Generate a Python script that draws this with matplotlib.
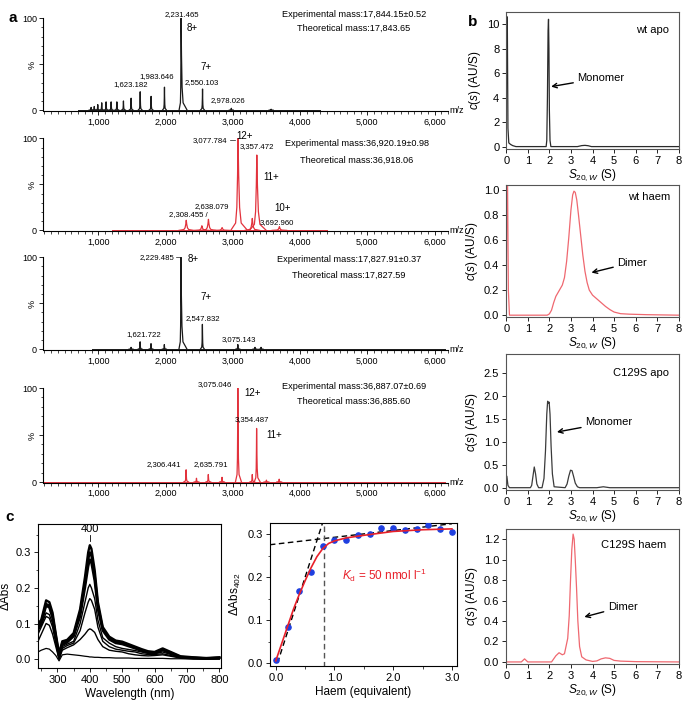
import numpy as np
import matplotlib
matplotlib.use('Agg')
import matplotlib.pyplot as plt
from matplotlib.ticker import MultipleLocator

plt.rcParams['font.family'] = ['Liberation Sans', 'DejaVu Sans']
plt.rcParams['mathtext.fontset'] = 'custom'
plt.rcParams['mathtext.rm'] = 'Liberation Sans'
plt.rcParams['mathtext.it'] = 'Liberation Sans:italic'
plt.rcParams['mathtext.bf'] = 'Liberation Sans:bold'
plt.rcParams['axes.linewidth'] = 0.8

# ---------------- data: panel a (mass spectra, peak m/z and % intensity) ----
spec1_mz = [893, 940, 992, 1051, 1116, 1191, 1276, 1374, 1488, 1623, 1785, 1984, 2231, 2550, 2978, 3570]
spec1_int = [3, 4, 6, 8, 9, 9, 9, 10, 13, 20, 15, 25, 100, 23, 2, 1]
spec2_mz = [2308, 2540, 2638, 2841, 3078, 3290, 3357, 3693]
spec2_int = [11, 5, 12, 3, 100, 13, 82, 4]
spec3_mz = [1487, 1622, 1784, 1982, 2229, 2548, 3075, 3330, 3420]
spec3_int = [2, 8, 6, 5, 100, 27, 5, 2, 2]
spec4_mz = [2306, 2460, 2636, 2840, 3075, 3290, 3354, 3500, 3690]
spec4_int = [13, 4, 8, 5, 100, 8, 57, 2, 3]

# ---------------- data: panel b (c(s) distributions) ----------------------
b1_s = [0, 0.02, 0.05, 0.08, 0.12, 0.2, 0.3, 0.45, 1.85, 1.88, 1.91, 1.94, 1.96, 1.98, 2.0, 2.03, 2.07,
        3.3, 3.5, 3.65, 3.8, 3.95, 8]
b1_c = [0, 10.6, 10.6, 1.5, 0.3, 0.18, 0.08, 0.0, 0.0, 0.5, 4.0, 9.5, 10.4, 8.0, 3.0, 0.5, 0.0,
        0.0, 0.08, 0.1, 0.07, 0.0, 0.0]
b2_s = [0, 0.03, 0.06, 0.1, 0.15, 1.9, 2.0, 2.1, 2.2, 2.3, 2.4, 2.5, 2.6, 2.7, 2.8, 2.9, 3.0, 3.08, 3.14,
        3.2, 3.27, 3.35, 3.45, 3.55, 3.65, 3.75, 3.85, 4.0, 4.2, 4.4, 4.6, 4.8, 5.0, 5.3, 5.7, 6.5, 8]
b2_c = [0, 1.1, 1.1, 0.2, 0.0, 0.0, 0.01, 0.04, 0.1, 0.15, 0.18, 0.21, 0.24, 0.3, 0.43, 0.62, 0.84, 0.96, 0.99,
        0.98, 0.92, 0.8, 0.64, 0.48, 0.35, 0.26, 0.2, 0.16, 0.13, 0.1, 0.07, 0.045, 0.025, 0.012, 0.008, 0.004, 0.0]
b3_s = [0, 0.03, 0.08, 0.15, 1.12, 1.18, 1.24, 1.3, 1.36, 1.42, 1.5, 1.66, 1.75, 1.82, 1.88, 1.92, 1.96, 1.99,
        2.03, 2.08, 2.14, 2.22, 2.73, 2.82, 2.9, 2.98, 3.05, 3.12, 3.2, 3.3, 3.4, 4.2, 4.5, 4.8, 8]
b3_c = [0, 0.25, 0.05, 0.0, 0.0, 0.05, 0.25, 0.45, 0.3, 0.08, 0.0, 0.0, 0.2, 0.8, 1.6, 1.88, 1.84, 1.86,
        1.6, 0.9, 0.3, 0.02, 0.0, 0.08, 0.25, 0.38, 0.37, 0.25, 0.1, 0.02, 0.0, 0.0, 0.02, 0.0, 0.0]
b4_s = [0, 0.7, 0.85, 1.0, 2.1, 2.3, 2.45, 2.6, 2.7, 2.85, 2.92, 2.98, 3.04, 3.1, 3.15, 3.2, 3.26, 3.32,
        3.4, 3.5, 3.7, 4.0, 4.2, 4.4, 4.6, 4.8, 5.0, 5.3, 6.0, 8]
b4_c = [0, 0.0, 0.03, 0.0, 0.0, 0.06, 0.09, 0.07, 0.08, 0.23, 0.45, 0.8, 1.1, 1.25, 1.2, 1.0, 0.72, 0.4,
        0.15, 0.05, 0.02, 0.005, 0.01, 0.03, 0.04, 0.035, 0.015, 0.008, 0.003, 0.0]

# ---------------- data: panel c left (difference spectra) -----------------
wl = [240, 250, 265, 275, 285, 295, 305, 315, 330, 350, 370, 385, 395, 400, 405, 415,
      425, 440, 460, 480, 500, 520, 540, 560, 580, 600, 625, 650, 680, 720, 760, 800]
abs_top1 = [0.10, 0.11, 0.165, 0.16, 0.13, 0.07, 0.016, 0.05, 0.054, 0.073, 0.14, 0.23, 0.30, 0.32, 0.31, 0.25,
            0.16, 0.09, 0.063, 0.052, 0.049, 0.042, 0.035, 0.028, 0.022, 0.02, 0.03, 0.02, 0.008, 0.005, 0.003, 0.005]
abs_top2 = [0.09, 0.105, 0.155, 0.15, 0.12, 0.065, 0.01, 0.045, 0.05, 0.068, 0.13, 0.215, 0.28, 0.30, 0.29, 0.235,
            0.15, 0.085, 0.058, 0.048, 0.045, 0.039, 0.032, 0.025, 0.02, 0.018, 0.027, 0.018, 0.006, 0.004, 0.002, 0.004]
abs_top3 = [0.085, 0.10, 0.15, 0.145, 0.115, 0.06, 0.005, 0.04, 0.047, 0.064, 0.12, 0.2, 0.26, 0.28, 0.27, 0.22,
            0.14, 0.08, 0.055, 0.045, 0.042, 0.036, 0.03, 0.023, 0.018, 0.016, 0.025, 0.016, 0.005, 0.003, 0.002, 0.003]
abs_mid1 = [0.08, 0.095, 0.13, 0.125, 0.10, 0.05, 0.005, 0.035, 0.042, 0.05, 0.10, 0.16, 0.20, 0.21, 0.2, 0.17,
            0.11, 0.06, 0.045, 0.035, 0.03, 0.027, 0.024, 0.02, 0.016, 0.015, 0.02, 0.013, 0.005, 0.003, 0.001, 0.002]
abs_mid2 = [0.07, 0.09, 0.12, 0.115, 0.09, 0.045, 0.0, 0.03, 0.038, 0.045, 0.08, 0.13, 0.16, 0.17, 0.165, 0.14,
            0.09, 0.05, 0.035, 0.028, 0.025, 0.022, 0.02, 0.015, 0.013, 0.013, 0.015, 0.01, 0.004, 0.002, 0.001, 0.001]
abs_low1 = [0.05, 0.07, 0.1, 0.095, 0.07, 0.035, 0.0, 0.025, 0.032, 0.04, 0.055, 0.07, 0.082, 0.085, 0.083, 0.075,
            0.055, 0.035, 0.025, 0.022, 0.02, 0.015, 0.012, 0.01, 0.009, 0.01, 0.012, 0.008, 0.003, 0.001, 0.0, 0.001]
abs_low2 = [0.02, 0.025, 0.03, 0.028, 0.02, 0.01, -0.005, 0.012, 0.014, 0.012, 0.01, 0.008, 0.007, 0.006, 0.006, 0.005,
            0.005, 0.004, 0.004, 0.003, 0.003, 0.003, 0.002, 0.002, 0.002, 0.002, 0.002, 0.001, 0.001, 0.0, 0.0, 0.0]

# ---------------- data: panel c middle (titration) ------------------------
haem_eq = [0.0, 0.2, 0.4, 0.6, 0.8, 1.0, 1.2, 1.4, 1.6, 1.8, 2.0, 2.2, 2.4, 2.6, 2.8, 3.0]
dabs402 = [0.006, 0.084, 0.169, 0.213, 0.273, 0.288, 0.287, 0.298, 0.300, 0.316, 0.314, 0.310, 0.312, 0.322, 0.312, 0.306]
fit_x = [0, 0.1, 0.2, 0.3, 0.4, 0.5, 0.6, 0.7, 0.8, 0.9, 1.0, 1.2, 1.5, 2.0, 2.5, 3.0]
fit_y = [0.005, 0.045, 0.085, 0.125, 0.16, 0.192, 0.222, 0.248, 0.267, 0.279, 0.285, 0.292, 0.298, 0.307, 0.311, 0.313]
slope_x = [0.03, 0.795]
slope_y = [0.0, 0.326]
plateau_x = [-0.1, 3.0]
plateau_y = [0.276, 0.325]
eq_point = 0.83

BLACK = '#1a1a1a'
RED_A = '#e2323c'
RED_B = '#ef6870'

fig = plt.figure(figsize=(6.85, 7.03), dpi=100)

# peak template (relative offsets / fractions) used to draw each spectral peak
tmpl_off = np.array([-6, -2, -1, -0.4, 0, 0.4, 1, 2, 6])
tmpl_frac = np.array([0, 0.08, 0.25, 0.6, 1, 0.6, 0.25, 0.08, 0])


def draw_spectrum(ax, mz, inten, color, w, tail_main, base_rng):
    ax.plot(base_rng, [0.4, 0.4], color=color, lw=0.7)
    for m, h in zip(mz, inten):
        off = tmpl_off.astype(float).copy()
        if h >= 50:
            off[5:] *= tail_main
        ax.plot(m + off * w, h * tmpl_frac, color=color, lw=0.9)


def style_ms(ax):
    ax.set_xlim(180, 6200)
    ax.set_ylim(-1, 100)
    for s in ['top', 'right']:
        ax.spines[s].set_visible(False)
    ax.spines['left'].set_bounds(0, 100)
    ax.set_xticks([1000, 2000, 3000, 4000, 5000, 6000])
    ax.set_xticklabels(['1,000', '2,000', '3,000', '4,000', '5,000', '6,000'])
    ax.xaxis.set_minor_locator(MultipleLocator(100))
    ax.set_yticks([0, 50, 100])
    ax.set_yticklabels(['0', '%', '100'])
    ax.get_yticklabels()[1].set_rotation(90)
    ax.yaxis.set_minor_locator(MultipleLocator(10))
    ax.tick_params(labelsize=6.5, length=3, width=0.6, pad=1.5)
    ax.tick_params(which='minor', length=1.8, width=0.5)
    ax.text(1.003, 0.01, 'm/z', transform=ax.transAxes, fontsize=6.5, va='center', ha='left')


ms_left, ms_w = 0.063, 0.591
ms_bottoms = [0.842, 0.671, 0.502, 0.313]
ms_h = 0.132
fs_pk = 5.6
fs_z = 7
fs_m = 6.6

# spectrum 1: wt apo
ax1 = fig.add_axes([ms_left, ms_bottoms[0], ms_w, ms_h])
draw_spectrum(ax1, spec1_mz, spec1_int, BLACK, 5, 3, [700, 4300])
style_ms(ax1)
ax1.text(2250, 104, '2,231.465', fontsize=fs_pk, ha='center', va='center')
ax1.text(2400, 89, '8+', fontsize=fs_z, ha='center', va='center')
ax1.text(2595, 47, '7+', fontsize=fs_z, ha='center', va='center')
ax1.text(1870, 37, '1,983.646', fontsize=fs_pk, ha='center', va='center')
ax1.text(1475, 27.5, '1,623.182', fontsize=fs_pk, ha='center', va='center')
ax1.text(2540, 30, '2,550.103', fontsize=fs_pk, ha='center', va='center')
ax1.text(2930, 11, '2,978.026', fontsize=fs_pk, ha='center', va='center')
ax1.text(4800, 104, 'Experimental mass:17,844.15\u00b10.52', fontsize=fs_m, ha='center', va='center')
ax1.text(4800, 89, 'Theoretical mass:17,843.65', fontsize=fs_m, ha='center', va='center')

# spectrum 2: wt haem
ax2 = fig.add_axes([ms_left, ms_bottoms[1], ms_w, ms_h])
draw_spectrum(ax2, spec2_mz, spec2_int, RED_A, 18, 1.3, [1200, 4400])
style_ms(ax2)
ax2.text(2920, 98, '3,077.784', fontsize=fs_pk, ha='right', va='center')
ax2.plot([2960, 3040], [98, 98], color=BLACK, lw=0.5)
ax2.text(3181, 102.5, '12+', fontsize=fs_z, ha='center', va='center')
ax2.text(3355, 91, '3,357.472', fontsize=fs_pk, ha='center', va='center')
ax2.text(3576, 58, '11+', fontsize=fs_z, ha='center', va='center')
ax2.text(3740, 24, '10+', fontsize=fs_z, ha='center', va='center')
ax2.text(2696, 26, '2,638.079', fontsize=fs_pk, ha='center', va='center')
ax2.text(2340, 17, '2,308.455 /', fontsize=fs_pk, ha='center', va='center')
ax2.text(3650, 9, '3,692.960', fontsize=fs_pk, ha='center', va='center')
ax2.text(4840, 95, 'Experimental mass:36,920.19\u00b10.98', fontsize=fs_m, ha='center', va='center')
ax2.text(4840, 76, 'Theoretical mass:36,918.06', fontsize=fs_m, ha='center', va='center')

# spectrum 3: C129S apo
ax3 = fig.add_axes([ms_left, ms_bottoms[2], ms_w, ms_h])
draw_spectrum(ax3, spec3_mz, spec3_int, BLACK, 5, 3, [900, 6150])
style_ms(ax3)
ax3.text(2130, 100, '2,229.485', fontsize=fs_pk, ha='right', va='center')
ax3.plot([2160, 2215], [100, 100], color=BLACK, lw=0.5)
ax3.text(2405, 98, '8+', fontsize=fs_z, ha='center', va='center')
ax3.text(2597, 57, '7+', fontsize=fs_z, ha='center', va='center')
ax3.text(2563, 33, '2,547.832', fontsize=fs_pk, ha='center', va='center')
ax3.text(1682, 16, '1,621.722', fontsize=fs_pk, ha='center', va='center')
ax3.text(3097, 11, '3,075.143', fontsize=fs_pk, ha='center', va='center')
ax3.text(4730, 98, 'Experimental mass:17,827.91\u00b10.37', fontsize=fs_m, ha='center', va='center')
ax3.text(4730, 80, 'Theoretical mass:17,827.59', fontsize=fs_m, ha='center', va='center')

# spectrum 4: C129S haem
ax4 = fig.add_axes([ms_left, ms_bottoms[3], ms_w, 0.135])
draw_spectrum(ax4, spec4_mz, spec4_int, RED_A, 6, 1.5, [180, 6150])
style_ms(ax4)
ax4.text(2726, 104, '3,075.046', fontsize=fs_pk, ha='center', va='center')
ax4.text(3289, 95, '12+', fontsize=fs_z, ha='center', va='center')
ax4.text(3289, 66, '3,354.487', fontsize=fs_pk, ha='center', va='center')
ax4.text(3611, 50, '11+', fontsize=fs_z, ha='center', va='center')
ax4.text(1979, 19, '2,306.441', fontsize=fs_pk, ha='center', va='center')
ax4.text(2671, 19, '2,635.791', fontsize=fs_pk, ha='center', va='center')
ax4.text(4798, 102, 'Experimental mass:36,887.07\u00b10.69', fontsize=fs_m, ha='center', va='center')
ax4.text(4798, 86, 'Theoretical mass:36,885.60', fontsize=fs_m, ha='center', va='center')

# ---------------- panel b ----------------
b_left, b_w = 0.739, 0.252
b_specs = [
    (0.788, 0.195, b1_s, b1_c, '#2a2a2a', (-0.2, 11), [0, 2, 4, 6, 8, 10], '{:.0f}', 'wt apo', (6.78, 9.56),
     'Monomer', (3.3, 5.6), (2.08, 4.9)),
    (0.549, 0.188, b2_s, b2_c, RED_B, (-0.015, 1.04), [0, 0.2, 0.4, 0.6, 0.8, 1.0], '{:.1f}', 'wt haem', (6.64, 0.94),
     'Dimer', (5.15, 0.42), (3.95, 0.34)),
    (0.303, 0.193, b3_s, b3_c, '#3a3a3a', (-0.05, 2.9), [0, 0.5, 1.0, 1.5, 2.0, 2.5], '{:.1f}', 'C129S apo', (6.25, 2.5),
     'Monomer', (3.66, 1.42), (2.35, 1.21)),
    (0.0555, 0.192, b4_s, b4_c, RED_B, (-0.02, 1.3), [0, 0.2, 0.4, 0.6, 0.8, 1.0, 1.2], '{:.1f}', 'C129S haem', (5.9, 1.14),
     'Dimer', (4.71, 0.54), (3.62, 0.44)),
]
for bot, h, xs, ys, col, yl, yt, fmt, lab, lab_xy, ann, txt_xy, tip_xy in b_specs:
    ax = fig.add_axes([b_left, bot, b_w, h])
    ax.plot(xs, ys, color=col, lw=0.9)
    ax.set_xlim(0, 8)
    ax.set_ylim(*yl)
    ax.set_xticks(range(0, 9))
    ax.set_yticks(yt)
    ax.set_yticklabels([fmt.format(v) for v in yt])
    ax.tick_params(labelsize=8, length=3, width=0.6, pad=2)
    for sp in ax.spines.values():
        sp.set_color('#555555')
    ax.set_xlabel(r'$S_{20,W}$ (S)', fontsize=8.5, labelpad=1)
    ax.set_ylabel(r'$c(s)$ (AU/S)', fontsize=8.5, labelpad=3)
    ax.text(lab_xy[0], lab_xy[1], lab, fontsize=8, ha='center', va='center')
    ax.annotate(ann, xy=tip_xy, xytext=txt_xy, fontsize=8, ha='left', va='center',
                arrowprops=dict(arrowstyle='->', color='black', lw=1.0, shrinkA=1, shrinkB=0))

# ---------------- panel c left ----------------
axc1 = fig.add_axes([0.0555, 0.0498, 0.267, 0.205])
for curve, lw in [(abs_low2, 0.9), (abs_low1, 1.0), (abs_mid2, 1.0), (abs_mid1, 1.0),
                  (abs_top3, 1.7), (abs_top2, 1.7), (abs_top1, 1.7)]:
    axc1.plot(wl, curve, color='black', lw=lw)
axc1.set_xlim(240, 805)
axc1.set_ylim(-0.025, 0.38)
axc1.set_xticks([300, 400, 500, 600, 700, 800])
axc1.xaxis.set_minor_locator(MultipleLocator(50))
axc1.set_yticks([0.0, 0.1, 0.2, 0.3])
axc1.set_yticklabels(['0.0', '0.1', '0.2', '0.3'])
axc1.yaxis.set_minor_locator(MultipleLocator(0.05))
axc1.tick_params(labelsize=8, length=3, width=0.6, pad=2)
axc1.tick_params(which='minor', length=1.8, width=0.5)
axc1.set_xlabel('Wavelength (nm)', fontsize=8.5, labelpad=2)
axc1.set_ylabel('\u0394Abs', fontsize=8.5, labelpad=3)
axc1.text(400, 0.352, '400', fontsize=8, ha='center', va='bottom')
axc1.plot([400, 400], [0.333, 0.348], color='black', lw=0.6)

# ---------------- panel c middle ----------------
axc2 = fig.add_axes([0.394, 0.0526, 0.273, 0.203])
axc2.plot(slope_x, slope_y, color='black', lw=1.0, ls=(0, (4, 2.5)))
axc2.plot(plateau_x, plateau_y, color='black', lw=1.0, ls=(0, (4, 2.5)))
axc2.plot([eq_point, eq_point], [-0.01, 0.33], color='#555555', lw=1.0, ls=(0, (4, 2.5)))
axc2.scatter(haem_eq, dabs402, s=14, color='#1f3fe0', zorder=3)
axc2.plot(fit_x, fit_y, color='#e8202a', lw=1.2, zorder=4)
axc2.set_xlim(-0.1, 3.085)
axc2.set_ylim(-0.007, 0.326)
axc2.set_xticks([0.0, 1.0, 2.0, 3.0])
axc2.set_xticklabels(['0.0', '1.0', '2.0', '3.0'])
axc2.xaxis.set_minor_locator(MultipleLocator(0.5))
axc2.set_yticks([0.0, 0.1, 0.2, 0.3])
axc2.set_yticklabels(['0.0', '0.1', '0.2', '0.3'])
axc2.yaxis.set_minor_locator(MultipleLocator(0.05))
axc2.tick_params(labelsize=8, length=3, width=0.6, pad=2)
axc2.tick_params(which='minor', length=1.8, width=0.5)
axc2.set_xlabel('Haem (equivalent)', fontsize=8.5, labelpad=2)
axc2.set_ylabel(r'$\Delta$Abs$_{402}$', fontsize=8.5, labelpad=3)
axc2.text(1.12, 0.205, r'$K_\mathrm{d}$ = 50 nmol l$^{-1}$', color='#e8202a', fontsize=8.5,
          ha='left', va='center')

# panel letters
fig.text(0.012, 0.974, 'a', fontsize=11, fontweight='bold', va='center')
fig.text(0.683, 0.969, 'b', fontsize=11, fontweight='bold', va='center')
fig.text(0.008, 0.264, 'c', fontsize=11, fontweight='bold', va='center')

fig.savefig('out.png', dpi=100)
